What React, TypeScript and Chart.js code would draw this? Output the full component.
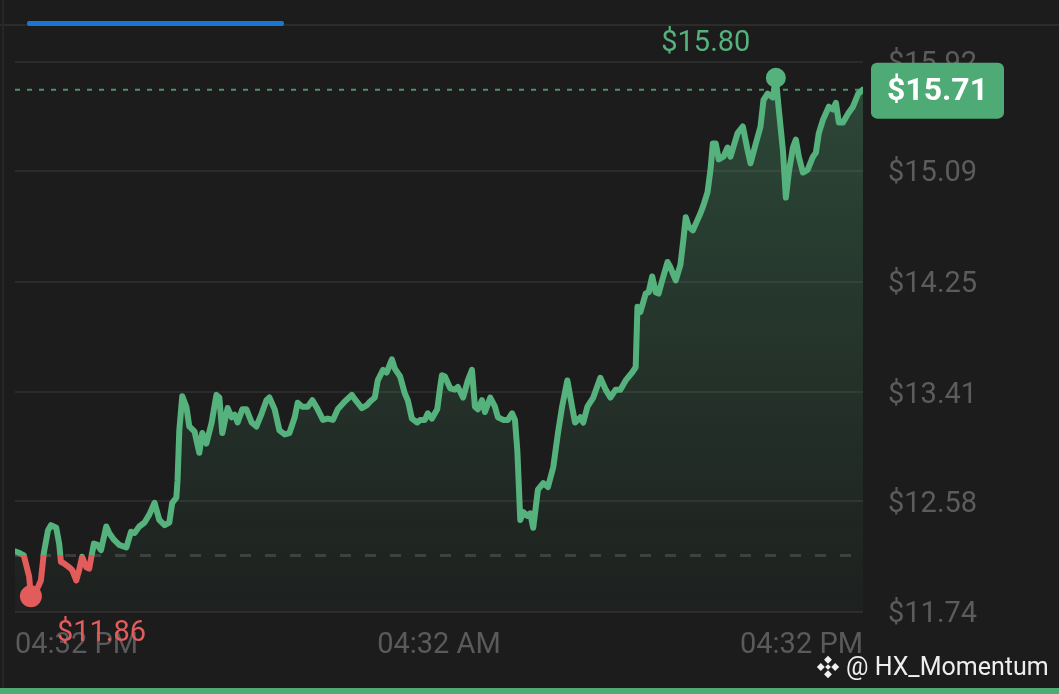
import React, { useEffect, useRef } from 'react';
import { Chart, registerables } from 'chart.js';

Chart.register(...registerables);

// minutes since the 04:32 PM open (24h window)
const minutes = [
  0, 7, 15, 24, 27, 37, 44, 49, 56, 61, 70, 75, 78, 83, 92, 97, 104, 109, 114, 121,
  126, 131, 134, 140, 146, 155, 160, 168, 177, 189, 197, 203, 211, 220, 228, 237, 245, 254, 262, 267,
  274, 276, 279, 284, 291, 296, 305, 313, 318, 325, 334, 342, 347, 352, 361, 368, 373, 378, 386, 393,
  402, 410, 419, 427, 432, 441, 449, 458, 466, 475, 480, 488, 497, 505, 514, 523, 531, 540, 548, 560,
  572, 580, 589, 597, 603, 611, 616, 625, 631, 640, 645, 654, 662, 667, 674, 683, 688, 696, 701, 708,
  717, 722, 725, 730, 739, 747, 752, 761, 769, 776, 781, 786, 793, 798, 807, 815, 820, 829, 837, 844,
  849, 853, 858, 863, 870, 875, 880, 888, 897, 905, 914, 922, 929, 938, 946, 951, 960, 965, 972, 982,
  994, 1003, 1011, 1020, 1028, 1037, 1048, 1054, 1057, 1062, 1071, 1076, 1082, 1088, 1093, 1099, 1108, 1113, 1122, 1130,
  1135, 1139, 1144, 1151, 1159, 1164, 1169, 1176, 1181, 1185, 1190, 1195, 1203, 1210, 1215, 1227, 1236, 1244, 1249, 1258,
  1266, 1271, 1278, 1287, 1292, 1297, 1304, 1309, 1314, 1321, 1326, 1331, 1338, 1346, 1355, 1360, 1365, 1372, 1377, 1382,
  1389, 1394, 1399, 1406, 1415, 1423, 1432, 1440,
];

const prices = [
  12.20, 12.19, 12.17, 12.01, 11.86, 11.91, 11.98, 12.19, 12.36, 12.40, 12.38, 12.26, 12.12, 12.11, 12.08, 12.06, 11.98, 12.06, 12.16, 12.08,
  12.07, 12.19, 12.26, 12.25, 12.21, 12.39, 12.34, 12.29, 12.25, 12.23, 12.35, 12.34, 12.39, 12.42, 12.48, 12.57, 12.44, 12.40, 12.42, 12.57,
  12.61, 12.74, 13.12, 13.38, 13.30, 13.15, 13.11, 12.95, 13.10, 13.02, 13.18, 13.39, 13.37, 13.10, 13.29, 13.22, 13.24, 13.18, 13.28, 13.28,
  13.18, 13.15, 13.25, 13.35, 13.37, 13.28, 13.12, 13.09, 13.10, 13.22, 13.33, 13.30, 13.30, 13.35, 13.28, 13.20, 13.21, 13.20, 13.28, 13.34,
  13.39, 13.34, 13.29, 13.31, 13.34, 13.37, 13.50, 13.58, 13.56, 13.66, 13.59, 13.53, 13.40, 13.35, 13.21, 13.18, 13.20, 13.20, 13.25, 13.21,
  13.28, 13.45, 13.54, 13.53, 13.44, 13.43, 13.45, 13.37, 13.50, 13.58, 13.30, 13.28, 13.35, 13.26, 13.37, 13.30, 13.22, 13.20, 13.20, 13.25,
  13.20, 12.97, 12.44, 12.50, 12.47, 12.49, 12.38, 12.67, 12.72, 12.69, 12.84, 13.10, 13.30, 13.50, 13.30, 13.18, 13.22, 13.18, 13.30, 13.37,
  13.52, 13.43, 13.37, 13.43, 13.43, 13.50, 13.56, 13.60, 14.06, 14.02, 14.16, 14.17, 14.29, 14.17, 14.16, 14.26, 14.40, 14.36, 14.26, 14.38,
  14.57, 14.74, 14.67, 14.64, 14.72, 14.77, 14.83, 14.93, 15.10, 15.30, 15.30, 15.18, 15.20, 15.27, 15.20, 15.38, 15.43, 15.25, 15.15, 15.30,
  15.43, 15.63, 15.68, 15.65, 15.80, 15.56, 15.25, 14.89, 15.08, 15.27, 15.33, 15.20, 15.08, 15.10, 15.20, 15.23, 15.38, 15.48, 15.53, 15.58,
  15.56, 15.61, 15.46, 15.46, 15.53, 15.58, 15.68, 15.71,
];

const yTicks = [11.74, 12.58, 13.41, 14.25, 15.09, 15.92];
const xTickValues = [0, 720, 1440];
const xTickLabels = ['04:32 PM', '04:32 AM', '04:32 PM'];

const prevClose = 12.17;
const lastPrice = 15.71;

const GREEN = '#55b27c';
const RED = '#e25c5c';
const BG = '#1c1c1c';
const FONT = 'Roboto, "Noto Sans", sans-serif';

const maxIdx = prices.indexOf(Math.max(...prices));
const minIdx = prices.indexOf(Math.min(...prices));

const markers = {
  id: 'markers',
  beforeDatasetsDraw(chart: any) {
    const { ctx, chartArea, scales } = chart;
    ctx.save();
    // previous close
    const yb = scales.y.getPixelForValue(prevClose);
    ctx.strokeStyle = '#3b3b3b';
    ctx.lineWidth = 3;
    ctx.setLineDash([11, 14]);
    ctx.beginPath();
    ctx.moveTo(chartArea.left, yb);
    ctx.lineTo(chartArea.right, yb);
    ctx.stroke();
    // last price
    const yl = scales.y.getPixelForValue(lastPrice);
    ctx.strokeStyle = 'rgba(85,178,124,0.8)';
    ctx.lineWidth = 2;
    ctx.setLineDash([5, 7]);
    ctx.beginPath();
    ctx.moveTo(chartArea.left, yl);
    ctx.lineTo(chartArea.right, yl);
    ctx.stroke();
    ctx.restore();
  },
  afterDatasetsDraw(chart: any) {
    const { ctx, chartArea, scales } = chart;
    const x = scales.x;
    const y = scales.y;
    ctx.save();
    ctx.font = `29px ${FONT}`;
    ctx.textBaseline = 'middle';
    // high
    ctx.fillStyle = GREEN;
    ctx.textAlign = 'center';
    ctx.fillText('$' + prices[maxIdx].toFixed(2), x.getPixelForValue(minutes[maxIdx]) - 70, y.getPixelForValue(prices[maxIdx]) - 34);
    // low
    ctx.fillStyle = RED;
    ctx.textAlign = 'left';
    ctx.fillText('$' + prices[minIdx].toFixed(2), x.getPixelForValue(minutes[minIdx]) + 26, y.getPixelForValue(prices[minIdx]) + 38);
    // last price badge
    const yl = y.getPixelForValue(lastPrice);
    const bx = chartArea.right + 8;
    const bw = 133;
    const bh = 56;
    ctx.fillStyle = '#4fab75';
    ctx.beginPath();
    ctx.roundRect(bx, yl - bh / 2 + 1, bw, bh, 6);
    ctx.fill();
    ctx.fillStyle = '#ffffff';
    ctx.font = `bold 32px ${FONT}`;
    ctx.textAlign = 'center';
    ctx.fillText('$' + lastPrice.toFixed(2), bx + bw / 2, yl + 2);
    ctx.restore();
  },
};

const PriceChart: React.FC = () => {
  const chartRef = useRef<HTMLCanvasElement>(null);
  const chartInstance = useRef<Chart | null>(null);

  useEffect(() => {
    if (chartInstance.current) {
      chartInstance.current.destroy();
    }
    if (chartRef.current) {
      const ctx = chartRef.current.getContext('2d');
      if (ctx) {
        chartInstance.current = new Chart(ctx, {
          type: 'line',
          data: {
            datasets: [
              {
                data: minutes.map((m, i) => ({ x: m, y: prices[i] })),
                borderWidth: 6,
                borderJoinStyle: 'round',
                borderCapStyle: 'round',
                tension: 0,
                borderColor: (c: any) => {
                  const { chart } = c;
                  const area = chart.chartArea;
                  if (!area) return GREEN;
                  const yb = chart.scales.y.getPixelForValue(prevClose);
                  const f = Math.min(1, Math.max(0, (yb - area.top) / (area.bottom - area.top)));
                  const g = chart.ctx.createLinearGradient(0, area.top, 0, area.bottom);
                  g.addColorStop(0, GREEN);
                  g.addColorStop(f, GREEN);
                  g.addColorStop(f, RED);
                  g.addColorStop(1, RED);
                  return g;
                },
                fill: 'start',
                backgroundColor: (c: any) => {
                  const { chart } = c;
                  const area = chart.chartArea;
                  if (!area) return 'rgba(85,178,124,0.2)';
                  const g = chart.ctx.createLinearGradient(0, area.top, 0, area.bottom);
                  g.addColorStop(0, 'rgba(85,178,124,0.3)');
                  g.addColorStop(1, 'rgba(85,178,124,0.03)');
                  return g;
                },
                pointRadius: (c: any) => (c.dataIndex === maxIdx ? 10 : c.dataIndex === minIdx ? 11 : 0),
                pointBackgroundColor: (c: any) => (c.dataIndex === minIdx ? RED : GREEN),
                pointBorderWidth: 0,
                pointHoverRadius: 0,
              },
            ],
          },
          options: {
            animation: false,
            responsive: true,
            maintainAspectRatio: false,
            layout: { padding: { top: 62, left: 15, right: 0, bottom: 34 } },
            plugins: {
              legend: { display: false },
              tooltip: { enabled: false },
            },
            scales: {
              x: {
                type: 'linear',
                min: 0,
                max: 1440,
                grid: { display: false },
                border: { display: false },
                afterBuildTicks: (scale: any) => {
                  scale.ticks = xTickValues.map((v) => ({ value: v }));
                },
                afterFit: (scale: any) => {
                  scale.height = 48;
                },
                ticks: {
                  align: 'inner',
                  autoSkip: false,
                  maxRotation: 0,
                  padding: 8,
                  color: '#5a5a5a',
                  font: { size: 29, family: FONT },
                  callback: (_v: any, i: number) => xTickLabels[i],
                },
              },
              y: {
                position: 'right',
                min: yTicks[0],
                max: yTicks[yTicks.length - 1],
                grid: { color: '#2b2b2b', lineWidth: 2, drawTicks: false },
                border: { display: false },
                afterBuildTicks: (scale: any) => {
                  scale.ticks = yTicks.map((v) => ({ value: v }));
                },
                afterFit: (scale: any) => {
                  scale.width = 196;
                },
                ticks: {
                  padding: 25,
                  labelOffset: 3,
                  color: '#5c5c5c',
                  font: { size: 29, family: FONT },
                  callback: (v: any) => '$' + Number(v).toFixed(2),
                },
              },
            },
          },
          plugins: [markers],
        });
      }
    }
    return () => {
      if (chartInstance.current) {
        chartInstance.current.destroy();
        chartInstance.current = null;
      }
    };
  }, []);

  return (
    <div style={{ position: 'absolute', left: 0, top: 0, width: 1059, height: 694 }}>
      <canvas ref={chartRef}></canvas>
    </div>
  );
};

const BinanceLogo: React.FC = () => (
  <svg width="24" height="24" viewBox="0 0 24 24" style={{ display: 'block' }}>
    <g fill="#f0f0f0">
      <rect x="9.2" y="2" width="5.6" height="5.6" transform="rotate(45 12 4.8)" />
      <rect x="9.2" y="16.4" width="5.6" height="5.6" transform="rotate(45 12 19.2)" />
      <rect x="2" y="9.2" width="5.6" height="5.6" transform="rotate(45 4.8 12)" />
      <rect x="16.4" y="9.2" width="5.6" height="5.6" transform="rotate(45 19.2 12)" />
      <rect x="10" y="10" width="4" height="4" transform="rotate(45 12 12)" />
    </g>
  </svg>
);

const App: React.FC = () => {
  return (
    <div
      style={{
        position: 'fixed',
        left: 0,
        top: 0,
        width: 1059,
        height: 694,
        background: BG,
        overflow: 'hidden',
        fontFamily: FONT,
      }}
    >
      <div style={{ position: 'absolute', left: 0, top: 24, width: 1059, height: 2, background: '#2b2b2b' }} />
      <div style={{ position: 'absolute', left: 2, top: 0, width: 2, height: 694, background: '#262626' }} />
      <div style={{ position: 'absolute', left: 27, top: 21, width: 257, height: 5, borderRadius: 2, background: '#1976d2' }} />
      <PriceChart />
      <div
        style={{
          position: 'absolute',
          left: 816,
          top: 651,
          display: 'flex',
          alignItems: 'center',
          gap: 6,
          color: '#eeeeee',
          fontSize: 25,
          lineHeight: '32px',
        }}
      >
        <BinanceLogo />
        <span>@ HX_Momentum</span>
      </div>
      <div style={{ position: 'absolute', left: 0, top: 688, width: 1059, height: 6, background: '#4caa72' }} />
    </div>
  );
};

export default App;
